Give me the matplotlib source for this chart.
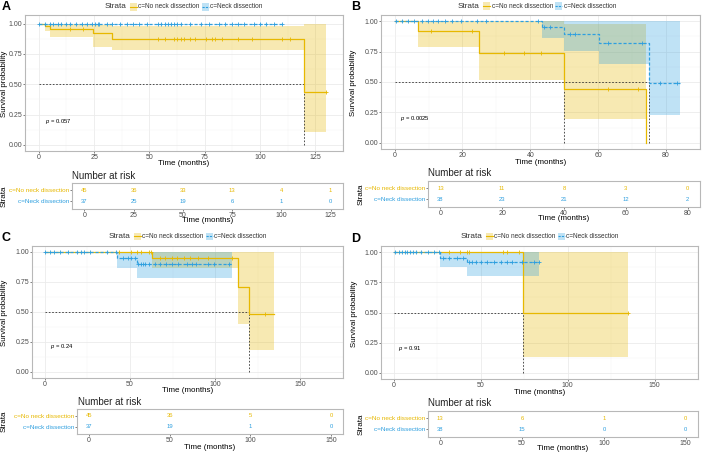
import matplotlib
matplotlib.use('Agg')
import matplotlib.pyplot as plt
import numpy as np
from matplotlib.patches import Rectangle
from matplotlib.lines import Line2D

plt.rcParams['font.family'] = ['Liberation Sans', 'DejaVu Sans']
plt.rcParams['mathtext.fontset'] = 'custom'
plt.rcParams['mathtext.it'] = 'Liberation Sans:italic'
plt.rcParams['mathtext.rm'] = 'Liberation Sans'

# ---------------- data ----------------
strata = ['c=No neck dissection', 'c=Neck dissection']

# Panel A
a_no_t = [0, 3, 5, 24.5, 33, 119.8]
a_no_s = [1, 0.978, 0.956, 0.923, 0.876, 0.44]
a_no_lo = [1, 0.935, 0.89, 0.81, 0.78, 0.11]
a_no_hi = [1, 1, 1, 0.99, 0.983, 1]
a_no_end = 129.9
a_no_cens = [14.1, 19.8, 54, 56.9, 61.2, 62.6, 64.1, 65.5, 68.4, 70.5, 75.6, 78.4, 79.6,
             82.8, 89.9, 96.4, 110, 113.6, 129.9]
a_nd_t = [0]
a_nd_s = [1]
a_nd_lo = [1]
a_nd_hi = [1]
a_nd_end = 109.8
a_nd_cens = [0.1, 3.0, 4.9, 6.6, 8.7, 10.2, 12.4, 14.1, 16.7, 19.5, 21.7, 23.9, 25.3, 26.7,
             27.4, 31.0, 33.2, 36.8, 39.7, 42.5, 45.4, 49.0, 54.0, 55.4, 56.9, 58.3, 59.8,
             61.2, 62.6, 64.1, 68.4, 73.4, 77.0, 81.3, 84.2, 87.1, 89.9, 92.8, 97.1, 100,
             102.9, 106.5, 109.8]
a_ticks = [0, 25, 50, 75, 100, 125]
a_risk_no = [45, 36, 33, 13, 4, 1]
a_risk_nd = [37, 25, 19, 6, 1, 0]
a_p = 'p = 0.057'

# Panel B
b_no_t = [0, 7.0, 24.9, 50.0, 74.2]
b_no_s = [1, 0.92, 0.74, 0.44, 0]
b_no_lo = [1, 0.785, 0.516, 0.20, 0]
b_no_hi = [1, 1, 1, 0.975, 0]
b_no_end = 74.2
b_no_cens = [10.6, 22.8, 32.2, 38.0, 43.1, 62.9, 71.8]
b_nd_t = [0, 43.4, 50.0, 60.1, 74.9]
b_nd_s = [1, 0.953, 0.893, 0.817, 0.494]
b_nd_lo = [1, 0.858, 0.757, 0.648, 0.23]
b_nd_hi = [1, 1, 1, 1, 1]
b_nd_end = 84.1
b_nd_cens = [0.3, 2.1, 3.9, 5.7, 8.1, 9.9, 11.3, 12.7, 15.0, 16.8, 19.6, 24.2, 26.8, 42.4,
             44.0, 45.8, 51.8, 53.2, 62.9, 73.0, 78.1, 83.1]
b_ticks = [0, 20, 40, 60, 80]
b_risk_no = [13, 11, 8, 3, 0]
b_risk_nd = [38, 23, 21, 12, 2]
b_p = 'p = 0.0025'

# Panel C
c_no_t = [0, 63.2, 113.2, 119.7]
c_no_s = [1, 0.95, 0.71, 0.48]
c_no_lo = [1, 0.87, 0.40, 0.185]
c_no_hi = [1, 1, 1, 1]
c_no_end = 134.6
c_no_cens = [43.3, 50.4, 53.9, 56.5, 60.9, 62.3, 67.9, 70.5, 74.9, 77.6, 81.9, 85.5, 89.8,
             96, 110, 129.3]
c_nd_t = [0, 42.5, 53.9]
c_nd_s = [1, 0.95, 0.904]
c_nd_lo = [1, 0.867, 0.78]
c_nd_hi = [1, 1, 1]
c_nd_end = 109.7
c_nd_cens = [0.4, 3.0, 5.6, 9.1, 13.5, 18.8, 21.4, 23.2, 26.7, 36.3, 41.6, 46, 48.6, 50.4,
             53, 54.7, 56.5, 57.4, 59.1, 60.9, 64.4, 67.9, 71.4, 74.9, 78.4, 83.7, 86.3,
             88.9, 96, 99.5, 108.3]
c_ticks = [0, 50, 100, 150]
c_risk_no = [45, 36, 5, 0]
c_risk_nd = [37, 19, 1, 0]
c_p = 'p = 0.24'

# Panel D
d_no_t = [0, 74.3]
d_no_s = [1, 0.5]
d_no_lo = [1, 0.13]
d_no_hi = [1, 1]
d_no_end = 134.5
d_no_cens = [31.8, 37.8, 42.2, 43.4, 63, 65.1, 71.7, 134.5]
d_nd_t = [0, 26.5, 42.2]
d_nd_s = [1, 0.954, 0.918]
d_nd_lo = [1, 0.877, 0.80]
d_nd_hi = [1, 1, 1]
d_nd_end = 83.5
d_nd_cens = [0.5, 3.1, 4.8, 6.6, 7.4, 9.2, 10.9, 12.7, 15.3, 19.6, 23.1, 25.7, 28.3, 31.8,
             36.1, 39.6, 43, 44.8, 47.4, 50, 53.4, 57.8, 61.3, 64.8, 68.2, 73.4, 80.4, 83.5]
d_ticks = [0, 50, 100, 150]
d_risk_no = [13, 6, 1, 0]
d_risk_nd = [38, 15, 0, 0]
d_p = 'p = 0.91'

# ---------------- styling ----------------
YEL = '#E7B800'
BLU = '#2E9FDF'
W, H = 702, 454
fig = plt.figure(figsize=(W / 100, H / 100), dpi=100)
TXT = '#4D4D4D'
BORDER = '#B8B8B8'


def add_ax(x0, y0, x1, y1):
    return fig.add_axes([x0 / W, 1 - y1 / H, (x1 - x0) / W, (y1 - y0) / H])


def fx(x):
    return x / W


def fy(y):
    return 1 - y / H


def style_spines(ax):
    for sp in ax.spines.values():
        sp.set_color(BORDER)
        sp.set_linewidth(0.8)
    ax.tick_params(labelsize=5.0, colors=TXT, length=1.3, width=0.5, pad=0.6)


def draw_curve(ax, t, s, lo, hi, end, cens, color, ls):
    t = np.asarray(t, float)
    s = np.asarray(s, float)
    tt = np.append(t, end)
    ss = np.append(s, s[-1])
    ll = np.append(lo, lo[-1])
    hh = np.append(hi, hi[-1])
    ax.fill_between(tt, ll, hh, step='post', color=color, alpha=0.3, lw=0, zorder=1)
    ax.step(tt, ss, where='post', color=color, lw=0.9, ls=ls, zorder=3)
    idx = np.searchsorted(t, np.asarray(cens), side='right') - 1
    ax.plot(cens, s[idx], ls='none', marker='+', color=color, ms=3, mew=0.6, zorder=4)


def median_of(t, s):
    for ti, si in zip(t, s):
        if si <= 0.5:
            return ti
    return None


def legend(cx, cy):
    fig.text(fx(cx - 79), fy(cy), 'Strata', fontsize=5.9, color='#333333', va='center', ha='left')
    for k0, col, lab, ls in [(cx - 54, YEL, strata[0], '-'), (cx + 18, BLU, strata[1], (0, (2, 1)))]:
        fig.add_artist(Rectangle((fx(k0), fy(cy + 3.5)), 7 / W, 7 / H, transform=fig.transFigure,
                                 facecolor=col, alpha=0.3, edgecolor='none'))
        fig.add_artist(Line2D([fx(k0), fx(k0 + 7)], [fy(cy), fy(cy)], transform=fig.transFigure,
                              color=col, lw=0.8, ls=ls))
        fig.text(fx(k0 + 8.5), fy(cy), lab, fontsize=4.7, color='#333333', va='center', ha='left')


def panel(letter, box, rbox, xlim, ticks, curves, risk_no, risk_nd, ptxt, ppos, ylim,
          letter_pos, leg, ylab_x, xlab_y, nar_pos, rstrata_x, rxlab_y):
    ax = add_ax(*box)
    ax.set_xlim(*xlim)
    ax.set_ylim(*ylim)
    ax.set_xticks(ticks)
    ax.set_xticks([(a + b) / 2 for a, b in zip(ticks[:-1], ticks[1:])] + [ticks[-1] + (ticks[1] - ticks[0]) / 2], minor=True)
    ax.set_yticks([0, 0.25, 0.5, 0.75, 1])
    ax.set_yticklabels(['0.00', '0.25', '0.50', '0.75', '1.00'])
    ax.set_yticks([0.125, 0.375, 0.625, 0.875], minor=True)
    ax.tick_params(which='minor', length=0)
    ax.grid(which='major', color='#EBEBEB', lw=0.6)
    ax.grid(which='minor', color='#F3F3F3', lw=0.35)
    ax.set_axisbelow(True)
    style_spines(ax)
    meds = []
    for (t, s, lo, hi, end, cens, col, ls) in curves:
        draw_curve(ax, t, s, lo, hi, end, cens, col, ls)
        m = median_of(t, s)
        if m is not None:
            meds.append(m)
    if meds:
        ax.plot([0, max(meds)], [0.5, 0.5], color='#333333', lw=0.6, ls=(0, (2, 2)), zorder=2)
        for m in meds:
            ax.plot([m, m], [0, 0.5], color='#333333', lw=0.6, ls=(0, (2, 2)), zorder=2)
    ax.text(ppos[0], ppos[1], r'$p$' + ptxt[1:], fontsize=4.2, color='black', ha='left', va='center')
    ax.set_xlabel('Time (months)', fontsize=5.8, color='black', va='center')
    ax.xaxis.set_label_coords(fx((box[0] + box[2]) / 2), fy(xlab_y), transform=fig.transFigure)
    ax.set_ylabel('Survival probability', fontsize=5.7, color='black', va='center')
    ax.yaxis.set_label_coords(fx(ylab_x), fy((box[1] + box[3]) / 2 + 1), transform=fig.transFigure)

    fig.text(fx(letter_pos[0]), fy(letter_pos[1]), letter, fontsize=9, fontweight='bold', va='center', ha='left')
    legend(*leg)

    # risk table
    rx = add_ax(*rbox)
    rx.set_xlim(*xlim)
    rx.set_ylim(-0.68, 1.62)
    rx.set_xticks(ticks)
    rx.set_yticks([0, 1])
    rx.set_yticklabels([strata[1], strata[0]])
    style_spines(rx)
    rx.tick_params(axis='y', labelsize=4.6)
    for lbl, c in zip(rx.get_yticklabels(), [BLU, YEL]):
        lbl.set_color(c)
    for xv, n1, n2 in zip(ticks, risk_no, risk_nd):
        rx.text(xv, 1, str(n1), color=YEL, fontsize=4.2, ha='center', va='center')
        rx.text(xv, 0, str(n2), color=BLU, fontsize=4.2, ha='center', va='center')
    rx.set_xlabel('Time (months)', fontsize=5.8, color='black', va='center')
    rx.xaxis.set_label_coords(fx((rbox[0] + rbox[2]) / 2), fy(rxlab_y), transform=fig.transFigure)
    rx.set_ylabel('Strata', fontsize=5.8, color='black', va='center')
    rx.yaxis.set_label_coords(fx(rstrata_x), fy((rbox[1] + rbox[3]) / 2), transform=fig.transFigure)
    fig.text(fx(nar_pos[0]), fy(nar_pos[1]), 'Number at risk', fontsize=7, color='#222222', va='center', ha='left')


panel('A', (25, 15, 343, 151), (72, 183, 343, 209), (-6.25, 131.25), a_ticks,
      [(a_no_t, a_no_s, a_no_lo, a_no_hi, a_no_end, a_no_cens, YEL, '-'),
       (a_nd_t, a_nd_s, a_nd_lo, a_nd_hi, a_nd_end, a_nd_cens, BLU, (0, (2.5, 1.5)))],
      a_risk_no, a_risk_nd, a_p, (3, 0.19), (-0.05, 1.07),
      (2, 7), (184, 7), 4.5, 164, (72, 176), 4.5, 221)

panel('B', (381, 15, 700, 149), (428, 181, 700, 207), (-4.0, 84.0), b_ticks,
      [(b_no_t, b_no_s, b_no_lo, b_no_hi, b_no_end, b_no_cens, YEL, '-'),
       (b_nd_t, b_nd_s, b_nd_lo, b_nd_hi, b_nd_end, b_nd_cens, BLU, (0, (2.5, 1.5)))],
      b_risk_no, b_risk_nd, b_p, (1.7, 0.2), (-0.05, 1.05),
      (351, 7), (537, 6), 353.5, 162.5, (428, 173), 361, 219)

panel('C', (32, 246, 343, 378), (77, 409, 343, 434), (-7.5, 157.5), c_ticks,
      [(c_no_t, c_no_s, c_no_lo, c_no_hi, c_no_end, c_no_cens, YEL, '-'),
       (c_nd_t, c_nd_s, c_nd_lo, c_nd_hi, c_nd_end, c_nd_cens, BLU, (0, (2.5, 1.5)))],
      c_risk_no, c_risk_nd, c_p, (3, 0.21), (-0.05, 1.05),
      (2, 238), (187.5, 236), 4.5, 391, (78, 401.7), 4.5, 447.5)

panel('D', (381, 246, 698, 379), (428, 411, 698, 437), (-7.5, 157.5), d_ticks,
      [(d_no_t, d_no_s, d_no_lo, d_no_hi, d_no_end, d_no_cens, YEL, '-'),
       (d_nd_t, d_nd_s, d_nd_lo, d_nd_hi, d_nd_end, d_nd_cens, BLU, (0, (2.5, 1.5)))],
      d_risk_no, d_risk_nd, d_p, (2.2, 0.2), (-0.05, 1.05),
      (351, 239), (540, 236), 354, 393, (428, 403.3), 361, 449)

fig.savefig('out.png', dpi=100)
